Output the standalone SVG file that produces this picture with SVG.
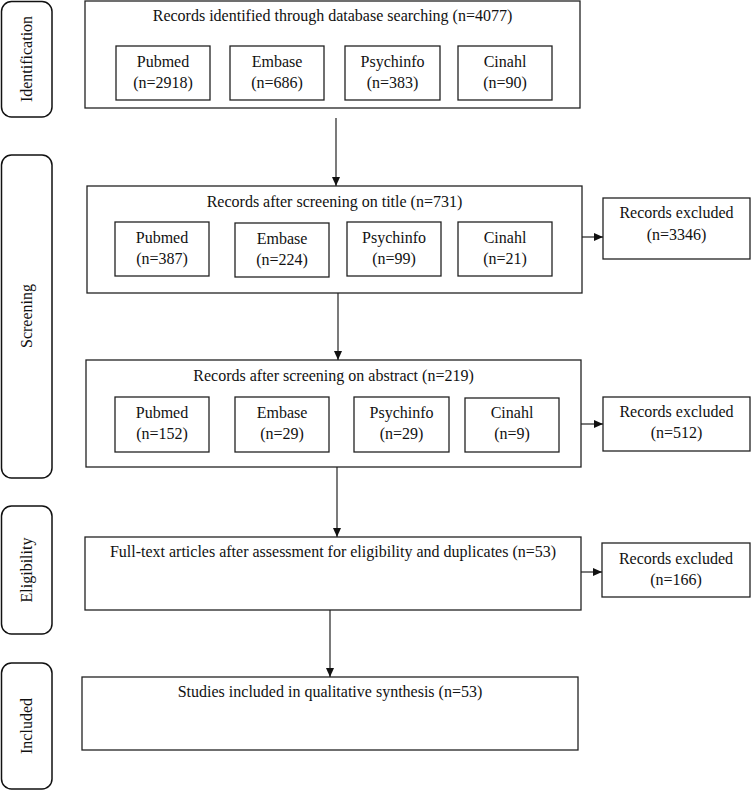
<svg xmlns="http://www.w3.org/2000/svg" width="751" height="791" viewBox="0 0 751 791" font-family="Liberation Serif, Tinos, Times New Roman, DejaVu Serif, serif">
<style>
.b{fill:#fff;stroke:#222;stroke-width:1.3}
.s{fill:#fff;stroke:#111;stroke-width:1.5}
text{font-family:'Liberation Serif',Tinos,'Times New Roman','DejaVu Serif',serif;font-size:16px;fill:#111;text-anchor:middle}
.c{stroke:#222;stroke-width:1.2;fill:none}
</style>
<defs>
<marker id="ah" markerWidth="10" markerHeight="10" refX="9" refY="5" orient="auto" markerUnits="userSpaceOnUse">
<path d="M0,1 L9,5 L0,9 Z" fill="#111"/>
</marker>
</defs>
<rect width="751" height="791" fill="#fff"/>

<g id="stage-identification">
<rect class="s" x="1.5" y="1.5" width="50.5" height="115.5" rx="10"/>
<text transform="translate(32,59) rotate(-90)">Identification</text>
</g>
<g id="stage-screening">
<rect class="s" x="1.5" y="155" width="50.5" height="323" rx="10"/>
<text transform="translate(32,316) rotate(-90)">Screening</text>
</g>
<g id="stage-eligibility">
<rect class="s" x="1.5" y="506" width="50.5" height="128" rx="10"/>
<text transform="translate(32,570) rotate(-90)">Eligibility</text>
</g>
<g id="stage-included">
<rect class="s" x="1.5" y="663" width="50.5" height="126" rx="10"/>
<text transform="translate(32,726) rotate(-90)">Included</text>
</g>

<g id="identified">
<rect class="b" x="85" y="1" width="495" height="107"/>
<text x="332.5" y="21">Records identified through database searching (n=4077)</text>
<rect class="b" x="116" y="46" width="94" height="54"/>
<text x="163" y="67">Pubmed</text><text x="163" y="88">(n=2918)</text>
<rect class="b" x="230" y="46" width="94" height="54"/>
<text x="277" y="67">Embase</text><text x="277" y="88">(n=686)</text>
<rect class="b" x="345" y="46" width="95" height="54"/>
<text x="392.5" y="67">Psychinfo</text><text x="392.5" y="88">(n=383)</text>
<rect class="b" x="458" y="46" width="94" height="54"/>
<text x="505" y="67">Cinahl</text><text x="505" y="88">(n=90)</text>
</g>

<g id="title-screening">
<rect class="b" x="87" y="186" width="495" height="107"/>
<text x="334.5" y="207">Records after screening on title (n=731)</text>
<rect class="b" x="115" y="222" width="94" height="54"/>
<text x="162" y="243">Pubmed</text><text x="162" y="264">(n=387)</text>
<rect class="b" x="235" y="223" width="94" height="54"/>
<text x="282" y="244">Embase</text><text x="282" y="265">(n=224)</text>
<rect class="b" x="347" y="222" width="94" height="54"/>
<text x="394" y="243">Psychinfo</text><text x="394" y="264">(n=99)</text>
<rect class="b" x="458" y="222" width="94" height="54"/>
<text x="505" y="243">Cinahl</text><text x="505" y="264">(n=21)</text>
</g>

<g id="excluded-title">
<rect class="b" x="603" y="198" width="147" height="61"/>
<text x="676.5" y="218">Records excluded</text>
<text x="676.5" y="240">(n=3346)</text>
</g>

<g id="abstract-screening">
<rect class="b" x="86" y="360" width="495" height="107"/>
<text x="333.5" y="381">Records after screening on abstract (n=219)</text>
<rect class="b" x="115" y="397" width="94" height="55"/>
<text x="162" y="418">Pubmed</text><text x="162" y="439">(n=152)</text>
<rect class="b" x="235" y="397" width="94" height="55"/>
<text x="282" y="418">Embase</text><text x="282" y="439">(n=29)</text>
<rect class="b" x="354" y="397" width="95" height="55"/>
<text x="401.5" y="418">Psychinfo</text><text x="401.5" y="439">(n=29)</text>
<rect class="b" x="465" y="398" width="94" height="54"/>
<text x="512" y="418">Cinahl</text><text x="512" y="439">(n=9)</text>
</g>

<g id="excluded-abstract">
<rect class="b" x="603" y="397" width="147" height="54"/>
<text x="676.5" y="417">Records excluded</text>
<text x="676.5" y="438">(n=512)</text>
</g>

<g id="fulltext">
<rect class="b" x="85" y="537" width="496" height="73"/>
<text x="333" y="557">Full-text articles after assessment for eligibility and duplicates (n=53)</text>
</g>

<g id="excluded-fulltext">
<rect class="b" x="602" y="543" width="148" height="54"/>
<text x="676" y="564">Records excluded</text>
<text x="676" y="585">(n=166)</text>
</g>

<g id="included">
<rect class="b" x="82" y="677" width="496" height="73"/>
<text x="330" y="697">Studies included in qualitative synthesis (n=53)</text>
</g>

<g id="connectors">
<line class="c" x1="336" y1="118" x2="336" y2="186" marker-end="url(#ah)"/>
<line class="c" x1="338" y1="293" x2="338" y2="360" marker-end="url(#ah)"/>
<line class="c" x1="337" y1="467" x2="337" y2="537" marker-end="url(#ah)"/>
<line class="c" x1="330" y1="610" x2="330" y2="677" marker-end="url(#ah)"/>
<line class="c" x1="582" y1="237" x2="603" y2="237" marker-end="url(#ah)"/>
<line class="c" x1="581" y1="424" x2="603" y2="424" marker-end="url(#ah)"/>
<line class="c" x1="581" y1="572" x2="602" y2="572" marker-end="url(#ah)"/>
</g>
</svg>
